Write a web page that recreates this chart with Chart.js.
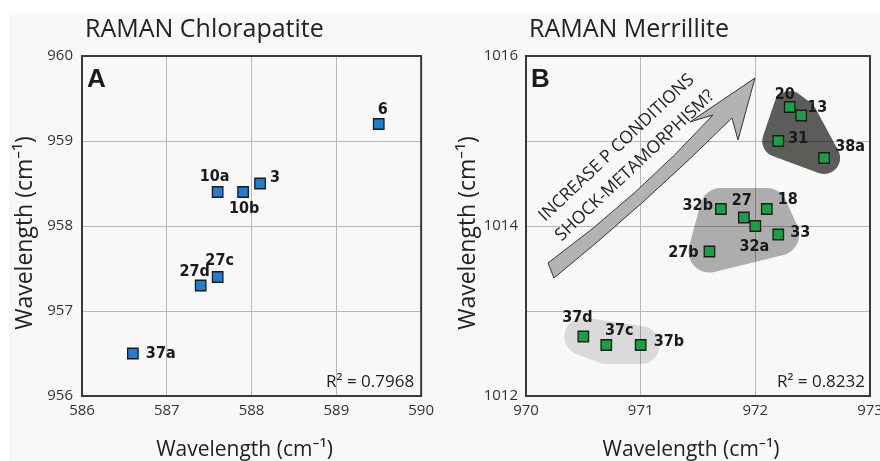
<!DOCTYPE html>
<html><head><meta charset="utf-8">
<script src="https://cdn.jsdelivr.net/npm/chart.js@4.4.0/dist/chart.umd.min.js"></script>
<style>
html,body{margin:0;padding:0;width:880px;height:461px;overflow:hidden;background:#fff;}
#bg{position:absolute;left:9px;top:13px;width:871px;height:448px;background:#f8f8f8;}
.wrap{position:absolute;top:0;height:461px;}
</style></head><body>
<div id="bg"></div>
<div class="wrap" style="left:0;width:440px"><canvas id="c1" width="440" height="461"></canvas></div>
<div class="wrap" style="left:440px;width:460px"><canvas id="c2" width="460" height="461"></canvas></div>
<script>
// ---------- DATA ----------
const CHL_LABELS = ['6','10a','10b','3','27d','27c','37a'];
const CHL_X = [589.5, 587.6, 587.9, 588.1, 587.4, 587.6, 586.6];
const CHL_Y = [959.2, 958.4, 958.4, 958.5, 957.3, 957.4, 956.5];
const CHL_X_TICKS = [586, 587, 588, 589, 590];
const CHL_Y_TICKS = [956, 957, 958, 959, 960];
const CHL_R2 = '0.7968';

const MER_LABELS = ['20','13','31','38a','32b','27','18','32a','33','27b','37d','37c','37b'];
const MER_X = [972.3, 972.4, 972.2, 972.6, 971.7, 971.9, 972.1, 972.0, 972.2, 971.6, 970.5, 970.7, 971.0];
const MER_Y = [1015.4, 1015.3, 1015.0, 1014.8, 1014.2, 1014.1, 1014.2, 1014.0, 1013.9, 1013.7, 1012.7, 1012.6, 1012.6];
const MER_GROUP = ['high','high','high','high','mid','mid','mid','mid','mid','mid','low','low','low'];
const MER_X_TICKS = [970, 971, 972, 973];
const MER_Y_TICKS = [1012, 1013, 1014, 1015, 1016];
const MER_Y_TICK_LABELS = ['1012', '', '1014', '', '1016'];
const MER_R2 = '0.8232';

const AXIS_TITLE = 'Wavelength (cm\u207B\u00B9)';

// ---------- STYLE / PLACEMENT ----------
const FONT = '"Open Sans", "Noto Sans", sans-serif';
const LABEL_FONT = 'bold 16px "Liberation Sans Narrow", "DejaVu Sans Condensed", sans-serif';
// [dx, dy, align]
const CHL_LABEL_POS = {
  '6':[4,-14,'center'], '10a':[-3,-15,'center'], '10b':[1,17,'center'], '3':[10,-6,'left'],
  '27d':[-6,-14,'center'], '27c':[2,-16,'center'], '37a':[13,0,'left']
};
const MER_LABEL_POS = {
  '20':[-5,-12,'center'], '13':[6,-8,'left'], '31':[10,-2,'left'], '38a':[11,-11,'left'],
  '32b':[-8,-3,'right'], '27':[-2,-17,'center'], '18':[11,-9,'left'], '32a':[-1,21,'center'],
  '33':[12,-2,'left'], '27b':[-11,1,'right'], '37d':[-6,-19,'center'], '37c':[13,-14,'center'],
  '37b':[13,-3,'left']
};
const MER_BLOBS = [
  {group:'high', color:'#5c5c58', pad:16},
  {group:'mid',  color:'#adadad', pad:21},
  {group:'low',  color:'#dadada', pad:19}
];

function hull(pts){
  const p = pts.slice().sort((a,b)=>a.x-b.x||a.y-b.y);
  if (p.length < 3) return p;
  const cross=(o,a,b)=>(a.x-o.x)*(b.y-o.y)-(a.y-o.y)*(b.x-o.x);
  const lower=[]; for(const q of p){while(lower.length>=2&&cross(lower[lower.length-2],lower[lower.length-1],q)<=0)lower.pop();lower.push(q);}
  const upper=[]; for(let i=p.length-1;i>=0;i--){const q=p[i];while(upper.length>=2&&cross(upper[upper.length-2],upper[upper.length-1],q)<=0)upper.pop();upper.push(q);}
  upper.pop(); lower.pop(); return lower.concat(upper);
}

function decoPlugin(cfg){
  return {
    id: 'deco' + cfg.letter,
    beforeDatasetsDraw(chart){
      const ctx = chart.ctx, xs = chart.scales.x, ys = chart.scales.y;
      const P = (x,y)=>({x:xs.getPixelForValue(x), y:ys.getPixelForValue(y)});
      if (cfg.blobs){
        const off = document.createElement('canvas'); off.width = chart.width; off.height = chart.height;
        const o = off.getContext('2d');
        cfg.blobs.forEach(b=>{
          const pts = [];
          cfg.groups.forEach((g,i)=>{ if (g===b.group) pts.push(P(cfg.xs[i], cfg.ys[i])); });
          const h = hull(pts);
          o.beginPath(); h.forEach((p,i)=> i ? o.lineTo(p.x,p.y) : o.moveTo(p.x,p.y)); o.closePath();
          o.fillStyle = b.color; o.strokeStyle = b.color; o.lineWidth = b.pad*2; o.lineJoin = 'round';
          o.fill(); o.stroke();
        });
        ctx.save(); ctx.globalCompositeOperation = 'multiply'; ctx.drawImage(off,0,0); ctx.restore();
      }
      if (cfg.arrow){
        const a = cfg.arrow;
        const tU=P(...a.tailU), tL=P(...a.tailL), jU=P(...a.joinU), bL=P(...a.barbL), tip=P(...a.tip), bR=P(...a.barbR), jL=P(...a.joinL);
        const ctrl=(p,q,s)=>{const mx=(p.x+q.x)/2,my=(p.y+q.y)/2,dx=q.x-p.x,dy=q.y-p.y,l=Math.hypot(dx,dy);
          let nx=-dy/l, ny=dx/l; if (ny<0){nx=-nx;ny=-ny;} return {x:mx+nx*s,y:my+ny*s};};
        const cU=ctrl(tU,jU,11), cL=ctrl(jL,tL,6);
        ctx.save();
        ctx.beginPath(); ctx.moveTo(tU.x,tU.y); ctx.quadraticCurveTo(cU.x,cU.y,jU.x,jU.y);
        ctx.lineTo(bL.x,bL.y); ctx.lineTo(tip.x,tip.y); ctx.lineTo(bR.x,bR.y); ctx.lineTo(jL.x,jL.y);
        ctx.quadraticCurveTo(cL.x,cL.y,tL.x,tL.y); ctx.closePath();
        ctx.fillStyle='#b3b3b3'; ctx.fill(); ctx.strokeStyle='#333'; ctx.lineWidth=1; ctx.lineJoin='miter'; ctx.stroke();
        ctx.fillStyle='#222'; ctx.font='17.5px ' + FONT; ctx.textAlign='center'; ctx.textBaseline='middle';
        a.texts.forEach(t=>{ const p=P(t.x,t.y); ctx.save(); ctx.translate(p.x,p.y); ctx.rotate(a.angle*Math.PI/180); ctx.fillText(t.text,0,0); ctx.restore(); });
        ctx.restore();
      }
    },
    afterDatasetsDraw(chart){
      const ctx = chart.ctx, xs = chart.scales.x, ys = chart.scales.y;
      ctx.save(); ctx.font = LABEL_FONT; ctx.fillStyle = '#1a1a1a'; ctx.textBaseline = 'middle';
      cfg.labels.forEach((l,i)=>{
        const pos = cfg.pos[l]; const x = xs.getPixelForValue(cfg.xs[i]) + pos[0], y = ys.getPixelForValue(cfg.ys[i]) + pos[1];
        ctx.textAlign = pos[2]; ctx.fillText(l, x, y);
      });
      ctx.restore();
    },
    afterDraw(chart){
      const ctx = chart.ctx, ca = chart.chartArea;
      ctx.save();
      ctx.strokeStyle = '#3a3a3a'; ctx.lineWidth = 2;
      ctx.strokeRect(ca.left, ca.top, ca.right-ca.left, ca.bottom-ca.top);
      ctx.fillStyle = '#1a1a1a'; ctx.font = 'bold 26px "Liberation Sans", Arial, sans-serif';
      ctx.textAlign = 'left'; ctx.textBaseline = 'alphabetic';
      ctx.fillText(cfg.letter, ca.left + 5, ca.top + 31);
      ctx.fillStyle = '#222'; ctx.font = '25px ' + FONT;
      ctx.fillText(cfg.title, ca.left + 3, 37);
      ctx.font = '17px ' + FONT; ctx.textAlign = 'right';
      ctx.fillText('R\u00B2 = ' + cfg.r2, ca.right - cfg.r2dx, ca.bottom - 9);
      // axis titles
      ctx.fillStyle = '#222'; ctx.textAlign = 'center'; ctx.textBaseline = 'alphabetic';
      ctx.font = '21px ' + FONT;
      ctx.fillText(AXIS_TITLE, (ca.left + ca.right)/2 + cfg.xTitleDx, 456);
      ctx.font = '23px ' + FONT;
      ctx.translate(cfg.yTitleX, (ca.top + ca.bottom)/2 + 7);
      ctx.rotate(-Math.PI/2);
      ctx.fillText(AXIS_TITLE, 0, 0);
      ctx.restore();
    }
  };
}

function makeChart(id, o){
  const pts = o.xs.map((x,i)=>({x:x, y:o.ys[i]}));
  const tickFont = {family: FONT, size: 15};
  return new Chart(document.getElementById(id), {
    type: 'scatter',
    data: { datasets: [{ data: pts, pointStyle: 'rect', pointRadius: 7.4, pointHoverRadius: 7.4,
      backgroundColor: o.color, borderColor: '#1a1a1a', borderWidth: 1.3 }] },
    options: {
      responsive: false, animation: false, events: [],
      layout: { padding: { top: 56, left: 0, right: o.padRight, bottom: 0 } },
      plugins: { legend: {display:false}, tooltip: {enabled:false}, title: {display:false} },
      scales: {
        x: { type:'linear', min:o.xMin, max:o.xMax,
          afterBuildTicks: s => { s.ticks = o.xTicks.map(v=>({value:v})); },
          afterFit: s => { s.height = 65; },
          ticks: { font: tickFont, color:'#333', padding: 6, maxRotation:0, autoSkip:false, callback: v => String(v) },
          grid: { color:'#b8b8b8', lineWidth:1, drawTicks:false },
          border: { display:false }
        },
        y: { type:'linear', min:o.yMin, max:o.yMax,
          afterBuildTicks: s => { s.ticks = o.yTicks.map(v=>({value:v})); },
          afterFit: s => { s.width = o.yWidth; },
          ticks: { font: tickFont, color:'#333', padding: o.yPad, autoSkip:false,
            callback: (v) => { const k = o.yTicks.indexOf(v); return o.yTickLabels ? o.yTickLabels[k] : String(v); } },
          grid: { color:'#b8b8b8', lineWidth:1, drawTicks:false },
          border: { display:false }
        }
      }
    },
    plugins: [decoPlugin(o.deco)]
  });
}

makeChart('c1', {
  xs: CHL_X, ys: CHL_Y, color:'#1f7fd2', xMin:586, xMax:590, yMin:956, yMax:960,
  xTicks: CHL_X_TICKS, yTicks: CHL_Y_TICKS, yWidth: 82, yPad: 9, padRight: 13,
  deco: { letter:'A', title:'RAMAN Chlorapatite', r2: CHL_R2, r2dx: 7, labels: CHL_LABELS, xs: CHL_X, ys: CHL_Y, pos: CHL_LABEL_POS,
    xTitleDx: -7, yTitleX: 32 }
});

makeChart('c2', {
  xs: MER_X, ys: MER_Y, color:'#16a244', xMin:970, xMax:973, yMin:1012, yMax:1016,
  xTicks: MER_X_TICKS, yTicks: MER_Y_TICKS, yTickLabels: MER_Y_TICK_LABELS, yWidth: 86, yPad: 8, padRight: 30,
  deco: { letter:'B', title:'RAMAN Merrillite', r2: MER_R2, r2dx: 5, labels: MER_LABELS, xs: MER_X, ys: MER_Y, pos: MER_LABEL_POS,
    xTitleDx: -7, yTitleX: 35,
    groups: MER_GROUP, blobs: MER_BLOBS,
    arrow: { tailU:[970.192,1013.565], tailL:[970.244,1013.388], joinU:[971.631,1015.306], barbL:[971.430,1015.224],
             tip:[971.997,1015.741], barbR:[971.849,1015.012], joinL:[971.796,1015.271], angle:-43.3,
             texts:[ {text:'INCREASE P CONDITIONS', x:970.79, y:1014.92}, {text:'SHOCK-METAMORPHISM?', x:970.95, y:1014.71} ] } }
});
</script>
</body></html>
